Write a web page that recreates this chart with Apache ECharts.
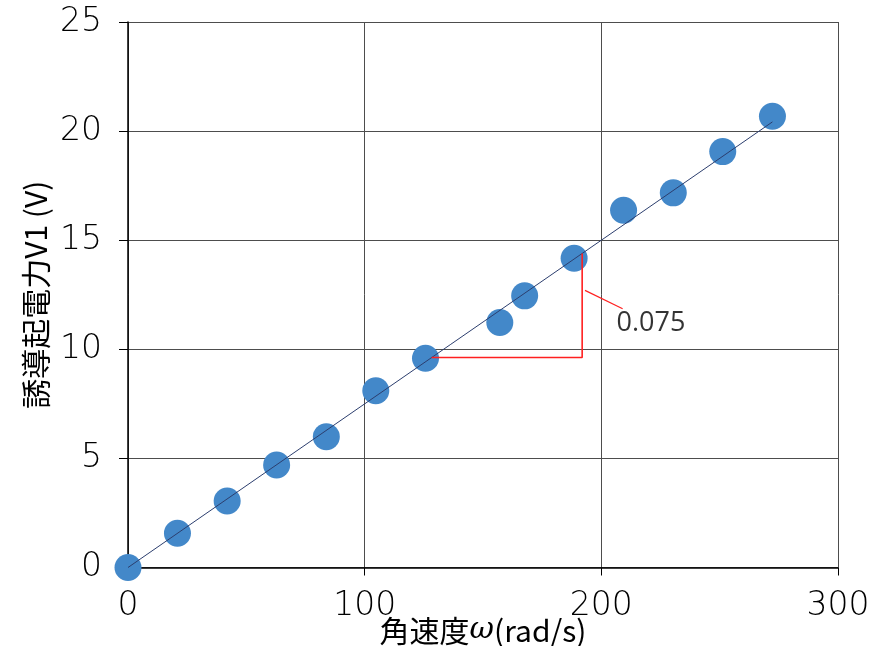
<!DOCTYPE html>
<html>
<head>
<meta charset="utf-8">
<title>誘導起電力と角速度</title>
<script src="https://cdn.jsdelivr.net/npm/echarts@6/dist/echarts.min.js"></script>
<style>
  html, body { margin: 0; padding: 0; background: #ffffff; }
  #chart { width: 879px; height: 646px; }
</style>
</head>
<body>
<div id="chart"></div>
<script>
// Measured angular velocity ω (rad/s) and induced EMF V1 (V)
const omegaRad = [0, 20.9, 41.9, 62.8, 83.8, 104.7, 125.7, 157.1, 167.6, 188.5, 209.4, 230.4, 251.3, 272.3];
const emfV     = [0, 1.57, 3.05, 4.70, 5.99, 8.10, 9.59, 11.23, 12.45, 14.17, 16.37, 17.17, 19.06, 20.68];

// Linear fit through the origin (slope shown on the chart)
const slope = 0.075;
const trendX = [0, 272.3];

// Slope triangle corners (x values) and its label
const triX = [128.3, 191.9];
const slopeLabel = '0.075';
const leaderX = [193.1, 209.0];
const leaderY = [12.70, 11.86];
const labelPos = [206.4, 11.2];

// Axis ticks
const xTicks = [0, 100, 200, 300];
const yTicks = [0, 5, 10, 15, 20, 25];

const scatterData = omegaRad.map((x, i) => [x, emfV[i]]);
const trendData = trendX.map(x => [x, slope * x]);
const triData = [
  [triX[0], slope * triX[0]],
  [triX[1], slope * triX[0]],
  [triX[1], slope * triX[1]]
];
const leaderData = leaderX.map((x, i) => [x, leaderY[i]]);

const tickFont = { fontFamily: 'DejaVu Sans', fontWeight: 200, fontSize: 33, color: '#000000' };

const chart = echarts.init(document.getElementById('chart'), null, { renderer: 'canvas' });
chart.setOption({
  animation: false,
  backgroundColor: '#ffffff',
  grid: { left: 128, right: 41, top: 22, bottom: 78.5, containLabel: false, outerBoundsMode: 'none' },
  xAxis: {
    type: 'value',
    min: xTicks[0],
    max: xTicks[xTicks.length - 1],
    interval: xTicks[1] - xTicks[0],
    name: '角速度{w|ω}(rad/s)',
    nameLocation: 'middle',
    nameGap: 48,
    nameMoveOverlap: false,
    nameTextStyle: {
      fontFamily: 'Noto Sans CJK JP', fontSize: 30, color: '#000000',
      rich: { w: { fontFamily: 'DejaVu Serif', fontStyle: 'italic', fontSize: 30, color: '#000000' } }
    },
    axisLine: { show: true, onZero: false, lineStyle: { color: '#000000', width: 1.5 } },
    axisTick: { show: true, inside: false, length: 8, lineStyle: { color: '#000000', width: 1 } },
    axisLabel: Object.assign({ margin: 22 }, tickFont),
    splitLine: { show: true, lineStyle: { color: '#4d4d4d', width: 1 } }
  },
  yAxis: {
    type: 'value',
    min: yTicks[0],
    max: yTicks[yTicks.length - 1],
    interval: yTicks[1] - yTicks[0],
    name: '誘導起電力V1 (V)',
    nameLocation: 'middle',
    nameGap: 77,
    nameMoveOverlap: false,
    nameTextStyle: { fontFamily: 'Noto Sans CJK JP', fontSize: 30, color: '#000000' },
    axisLine: { show: true, onZero: false, lineStyle: { color: '#000000', width: 1.5 } },
    axisTick: { show: true, inside: false, length: 9, lineStyle: { color: '#000000', width: 1 } },
    axisLabel: Object.assign({ margin: 26 }, tickFont),
    splitLine: { show: true, lineStyle: { color: '#4d4d4d', width: 1 } }
  },
  series: [
    {
      name: 'V1',
      type: 'scatter',
      data: scatterData,
      symbol: 'circle',
      symbolSize: 27,
      itemStyle: { color: '#4388c9', opacity: 1 },
      z: 2
    },
    {
      name: 'fit',
      type: 'line',
      data: trendData,
      showSymbol: false,
      symbol: 'none',
      lineStyle: { color: '#2c3e6e', width: 1 },
      z: 3
    },
    {
      name: 'slope',
      type: 'line',
      data: triData,
      showSymbol: false,
      symbol: 'none',
      lineStyle: { color: '#ff2020', width: 1.6 },
      z: 4
    },
    {
      name: 'leader',
      type: 'line',
      data: leaderData,
      showSymbol: false,
      symbol: 'none',
      lineStyle: { color: '#ff2020', width: 1.2 },
      z: 4
    },
    {
      name: 'slopeText',
      type: 'scatter',
      data: [labelPos],
      symbolSize: 0,
      silent: true,
      label: {
        show: true,
        position: 'inside',
        align: 'left',
        verticalAlign: 'middle',
        formatter: slopeLabel,
        fontFamily: 'Open Sans',
        fontSize: 27,
        color: '#000000'
      },
      z: 5
    }
  ]
});
</script>
</body>
</html>
